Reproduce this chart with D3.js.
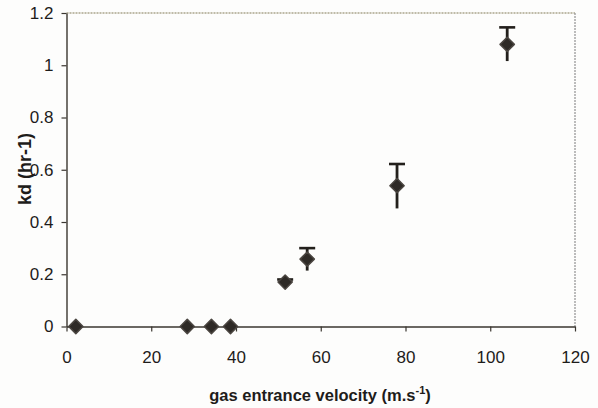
<!DOCTYPE html>
<html>
<head>
<meta charset="utf-8">
<script src="https://cdn.jsdelivr.net/npm/d3@7"></script>
<style>
  body { margin: 0; background: #fdfdfc; }
  svg { display: block; font-family: Arial, "Liberation Sans", sans-serif; }
</style>
</head>
<body>
<svg width="598" height="408"></svg>
<script>
const velocity = [2.2, 28.5, 34.2, 38.7, 51.6, 56.8, 78, 104];
const kd       = [0, 0, 0, 0, 0.17, 0.258, 0.539, 1.08];
const errUp    = [0, 0, 0, 0, 0.01, 0.042, 0.083, 0.065];
const errDown  = [0, 0, 0, 0, 0.01, 0.044, 0.087, 0.064];
const xTicks = [0, 20, 40, 60, 80, 100, 120];
const yTicks = [0, 0.2, 0.4, 0.6, 0.8, 1, 1.2];

const svg = d3.select('svg');
const plotLeft = 66.5, plotRight = 575, plotTop = 13, plotBottom = 326.5;

const x = d3.scaleLinear().domain([0, 120]).range([plotLeft, plotRight]);
const y = d3.scaleLinear().domain([0, 1.2]).range([plotBottom, plotTop]);

// plot frame (top and right edges are faint)
svg.append('line')
   .attr('x1', plotLeft).attr('x2', plotRight).attr('y1', plotTop).attr('y2', plotTop)
   .attr('stroke', '#aaa58c').attr('stroke-width', 1.3).attr('stroke-dasharray', '2,1');
svg.append('line')
   .attr('x1', plotRight).attr('x2', plotRight).attr('y1', plotTop).attr('y2', plotBottom)
   .attr('stroke', '#9a9a9a').attr('stroke-width', 1.3).attr('stroke-dasharray', '2,1');

const fmt = d => (d === 0 || d === 1) ? d3.format('d')(d) : d3.format('.1f')(d);

const xAxis = svg.append('g')
   .attr('transform', `translate(0,${plotBottom})`)
   .call(d3.axisBottom(x).tickValues(xTicks).tickSize(5).tickPadding(19).tickSizeOuter(0));
const yAxis = svg.append('g')
   .attr('transform', `translate(${plotLeft},0)`)
   .call(d3.axisLeft(y).tickValues(yTicks).tickFormat(fmt).tickSize(5).tickPadding(8).tickSizeOuter(0));

[xAxis, yAxis].forEach(g => {
    g.select('.domain').attr('stroke', '#3a3630').attr('stroke-width', 1.4);
    g.selectAll('.tick line').attr('stroke', '#3a3630').attr('stroke-width', 1.2);
    g.selectAll('.tick text').attr('fill', '#1e1c1a').style('font-size', '17px');
});

// error bars
const data = velocity.map((v, i) => ({v, k: kd[i], up: errUp[i], down: errDown[i]}));
const bars = data.filter(d => d.up > 0);

svg.selectAll('.err').data(bars).join('line')
   .attr('class', 'err')
   .attr('x1', d => x(d.v)).attr('x2', d => x(d.v))
   .attr('y1', d => y(d.k + d.up)).attr('y2', d => y(d.k - d.down))
   .attr('stroke', '#23201c').attr('stroke-width', 2.8);
svg.selectAll('.cap').data(bars).join('line')
   .attr('class', 'cap')
   .attr('x1', d => x(d.v) - 8).attr('x2', d => x(d.v) + 8)
   .attr('y1', d => y(d.k + d.up)).attr('y2', d => y(d.k + d.up))
   .attr('stroke', '#23201c').attr('stroke-width', 2.6);

// diamond markers
const diamond = d3.symbol().type(d3.symbolDiamond2).size(130);
svg.selectAll('.pt').data(data).join('path')
   .attr('class', 'pt')
   .attr('d', diamond)
   .attr('transform', d => `translate(${x(d.v)},${y(d.k)})`)
   .attr('fill', '#2e2a26')
   .attr('stroke', '#4a4540').attr('stroke-width', 1.5).attr('stroke-linejoin', 'round');

// axis titles
svg.append('text')
   .attr('transform', `translate(31,169) rotate(-90)`)
   .attr('text-anchor', 'middle')
   .style('font-size', '18px').style('font-weight', 'bold')
   .attr('fill', '#1e1c1a')
   .text('kd (hr-1)');

const xt = svg.append('text')
   .attr('x', 320).attr('y', 401)
   .attr('text-anchor', 'middle')
   .style('font-size', '16.5px').style('font-weight', 'bold')
   .attr('fill', '#1e1c1a');
xt.append('tspan').text('gas entrance velocity (m.s');
xt.append('tspan').attr('dy', -7).style('font-size', '11px').text('-1');
xt.append('tspan').attr('dy', 7).text(')');
</script>
</body>
</html>
